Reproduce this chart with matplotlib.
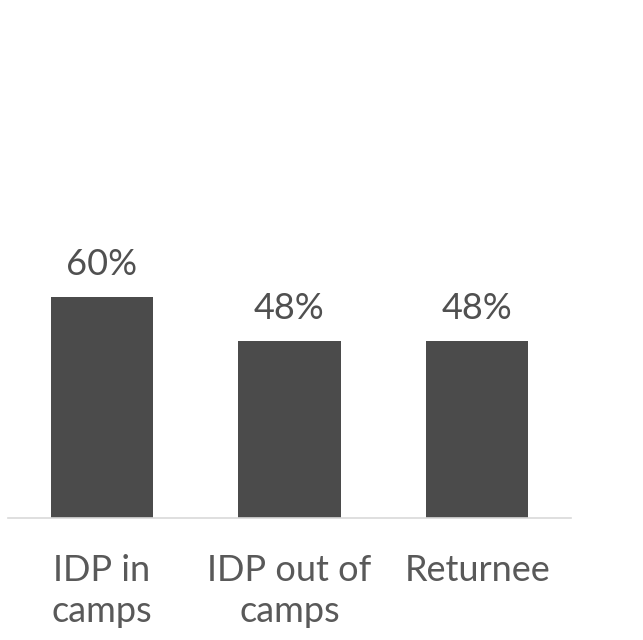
import matplotlib.pyplot as plt

# Dados
categorias = ['IDP in\ncamps', 'IDP out of\ncamps', 'Returnee']
valores = [60, 48, 48]
rotulos = ['60%', '48%', '48%']

plt.rcParams['font.family'] = ['Lato', 'DejaVu Sans']

fig = plt.figure(figsize=(6.43, 6.40), dpi=100)
ax = fig.add_axes([8 / 643, (640 - 518) / 640, 563 / 643, 368 / 640])

x = range(len(categorias))
barras = ax.bar(x, valores, width=0.545, color='#4b4b4b')

for b, txt in zip(barras, rotulos):
    ax.annotate(txt, (b.get_x() + b.get_width() / 2, b.get_height()),
                xytext=(0, 12), textcoords='offset points',
                ha='center', va='bottom', fontsize=26, color='#505050')

ax.set_xlim(-0.5, 2.5)
ax.set_ylim(0, 100)
ax.set_yticks([])
ax.set_xticks(list(x))
ax.set_xticklabels(categorias, fontsize=26, color='#595959', linespacing=1.3)
ax.tick_params(axis='x', length=0, pad=26)

for s in ['top', 'right', 'left']:
    ax.spines[s].set_visible(False)
ax.spines['bottom'].set_color('#d9d9d9')
ax.spines['bottom'].set_linewidth(1.2)

fig.savefig('out.png', dpi=100)
